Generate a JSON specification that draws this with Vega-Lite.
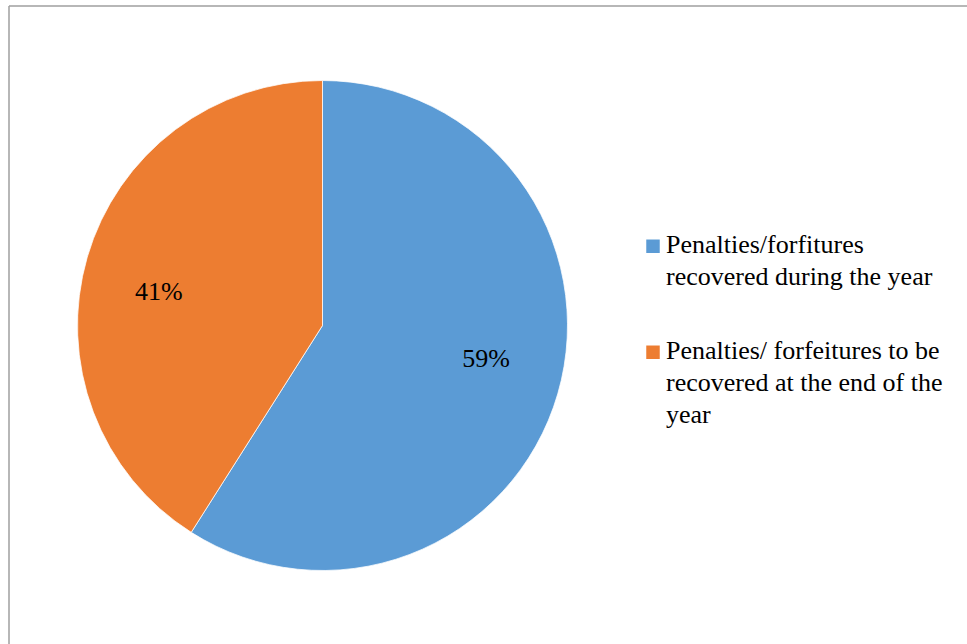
{
  "$schema": "https://vega.github.io/schema/vega-lite/v6.json",
  "padding": {"left": 8, "top": 5, "right": 0, "bottom": 0},
  "background": "white",
  "bounds": "flush",
  "spacing": 0,
  "config": {
    "view": {"stroke": null},
    "font": "Liberation Serif",
    "style": {"guide-label": {"lineHeight": 32}}
  },
  "hconcat": [
    {
      "width": 627,
      "height": 639,
      "view": {"stroke": "#a0a0a0", "strokeWidth": 1.5, "strokeDash": [627, 1266, 639, 0]},
      "data": {
        "values": [
          {"category": "Penalties/forfitures recovered during the year", "share": 0.59},
          {"category": "Penalties/ forfeitures to be recovered at the end of the year", "share": 0.41}
        ]
      },
      "encoding": {
        "theta": {"field": "share", "type": "quantitative", "stack": true},
        "order": {"field": "share", "sort": "descending"},
        "color": {
          "field": "category",
          "type": "nominal",
          "scale": {
            "domain": [
              "Penalties/forfitures recovered during the year",
              "Penalties/ forfeitures to be recovered at the end of the year"
            ],
            "range": ["#5B9BD5", "#ED7D31"]
          },
          "legend": {
            "orient": "none",
            "legendX": 631,
            "legendY": 234,
            "title": null,
            "padding": 0,
            "symbolType": "M-1,-2H1V0H-1Z",
            "symbolSize": 182,
            "symbolStrokeWidth": 0,
            "symbolOpacity": 1,
            "labelFont": "Liberation Serif",
            "labelFontSize": 26,
            "labelColor": "black",
            "labelLimit": 400,
            "labelOffset": 0,
            "labelBaseline": "alphabetic",
            "rowPadding": 48,
            "labelExpr": "datum.label == 'Penalties/forfitures recovered during the year' ? ['Penalties/forfitures', 'recovered during the year'] : ['Penalties/ forfeitures to be', 'recovered at the end of the', 'year']"
          }
        }
      },
      "layer": [
        {"mark": {"type": "arc", "outerRadius": 245, "stroke": "white", "strokeWidth": 0.75}},
        {
          "mark": {"type": "text", "radius": 167, "thetaOffset": -0.08, "fontSize": 26, "font": "Liberation Serif", "baseline": "middle"},
          "encoding": {
            "text": {"field": "share", "type": "quantitative", "format": ".0%"},
            "color": {"value": "black"}
          }
        }
      ]
    },
    {
      "width": 332,
      "height": 639,
      "view": {"stroke": "#a0a0a0", "strokeWidth": 1.5, "strokeDash": [332, 2000]},
      "data": {"values": []},
      "mark": "point"
    }
  ]
}
